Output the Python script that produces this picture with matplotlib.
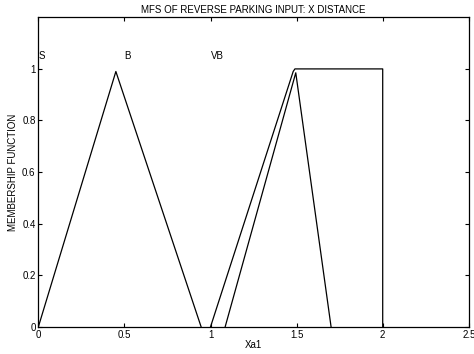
import matplotlib
matplotlib.use('Agg')
import matplotlib.pyplot as plt

plt.rcParams['font.family'] = ['Liberation Sans', 'DejaVu Sans']

# membership function vertices
s_x = [0.0, 0.45, 0.945]
s_y = [0.0, 0.99, 0.0]
b_x = [1.0, 1.48, 1.49, 2.0, 2.0]
b_y = [0.0, 0.99, 1.0, 1.0, 0.0]
vb_x = [1.085, 1.495, 1.70]
vb_y = [0.0, 0.985, 0.0]

labels = ['S', 'B', 'VB']
label_x = [0.0, 0.5, 1.0]
label_y = 1.05

fig = plt.figure(figsize=(4.74, 3.54), dpi=100)
ax = fig.add_axes([0.081, 0.077, 0.908, 0.874])
for xs, ys in [(s_x, s_y), (b_x, b_y), (vb_x, vb_y)]:
    ax.plot(xs, ys, color='black', linewidth=0.9)
for lab, lx in zip(labels, label_x):
    ax.text(lx, label_y, lab, fontsize=7, ha='left', va='center')

ax.set_xlim(0, 2.5)
ax.set_ylim(0, 1.2)
ax.set_xticks([0, 0.5, 1, 1.5, 2, 2.5])
ax.set_xticklabels(['0', '0.5', '1', '1.5', '2', '2.5'])
ax.set_yticks([0, 0.2, 0.4, 0.6, 0.8, 1])
ax.set_yticklabels(['0', '0.2', '0.4', '0.6', '0.8', '1'])
ax.tick_params(direction='in', top=True, right=True, labelsize=7, length=3, pad=2)
ax.set_xlabel('Xa1', fontsize=7, labelpad=0)
ax.set_ylabel('MEMBERSHIP FUNCTION', fontsize=7, labelpad=3)
ax.set_title('MFS OF REVERSE PARKING INPUT: X DISTANCE', fontsize=7, pad=3)
for sp in ax.spines.values():
    sp.set_linewidth(0.9)

fig.savefig('out.png', dpi=100)
